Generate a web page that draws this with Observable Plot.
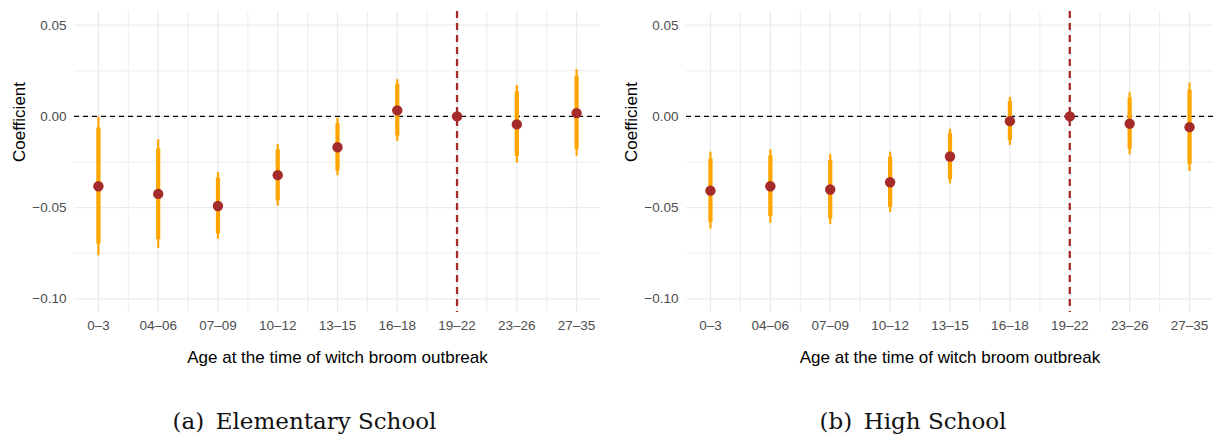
<!DOCTYPE html>
<html>
<head>
<meta charset="utf-8">
<script src="https://cdn.jsdelivr.net/npm/d3@7"></script>
<script src="https://cdn.jsdelivr.net/npm/@observablehq/plot@0.6"></script>
<style>
  html, body { margin: 0; padding: 0; background: #ffffff; }
  #wrap { position: relative; width: 1214px; height: 437px; overflow: hidden; background: #fff; }
  .fig { position: absolute; top: 0; }
  .cap { position: absolute; top: 408px; text-align: center; font-family: "DejaVu Serif", serif; font-size: 23px; color: #111; white-space: pre; line-height: 26px; }
</style>
</head>
<body>
<div id="wrap">
  <div id="left" class="fig" style="left:0px;"></div>
  <div id="right" class="fig" style="left:612px;"></div>
  <div class="cap" style="left:0px; width:609px;">(a)&#8194;Elementary School</div>
  <div class="cap" style="left:612px; width:602px;">(b)&#8194;High School</div>
</div>
<script>
// ---- data ----
const categories = ["0–3", "04–06", "07–09", "10–12", "13–15", "16–18", "19–22", "23–26", "27–35"];
const referenceCategory = "19–22";

// (a) Elementary School
const elemCoef = [-0.0383, -0.0425, -0.0491, -0.0322, -0.0169, 0.0033, 0, -0.0044, 0.0018];
const elemLo95 = [-0.0764, -0.0723, -0.0674, -0.0491, -0.0326, -0.0137, 0, -0.0256, -0.0218];
const elemHi95 = [-0.0004, -0.0128, -0.0308, -0.0154, -0.0009, 0.0201, 0, 0.0169, 0.0256];
const elemLo90 = [-0.0700, -0.0676, -0.0645, -0.0463, -0.0300, -0.0108, 0, -0.0220, -0.0181];
const elemHi90 = [-0.0064, -0.0178, -0.0339, -0.0183, -0.0040, 0.0176, 0, 0.0136, 0.0220];

// (b) High School
const hsCoef = [-0.0407, -0.0383, -0.0401, -0.0361, -0.0220, -0.0026, 0, -0.0040, -0.0059];
const hsLo95 = [-0.0617, -0.0586, -0.0593, -0.0527, -0.0370, -0.0159, 0, -0.0211, -0.0302];
const hsHi95 = [-0.0196, -0.0183, -0.0209, -0.0196, -0.0070, 0.0104, 0, 0.0130, 0.0183];
const hsLo90 = [-0.0581, -0.0549, -0.0562, -0.0498, -0.0346, -0.0132, 0, -0.0181, -0.0264];
const hsHi90 = [-0.0233, -0.0216, -0.0242, -0.0224, -0.0095, 0.0081, 0, 0.0101, 0.0143];

const yTicks = [-0.10, -0.05, 0.00, 0.05];
const yMinorTicks = [-0.075, -0.025, 0.025];
const xTitle = "Age at the time of witch broom outbreak";
const yTitle = "Coefficient";

// ---- chart ----
const xMajor = categories.map((c, i) => i + 1);
const xMinor = categories.slice(1).map((c, i) => i + 1.5);
const refIndex = categories.indexOf(referenceCategory) + 1;

function panel(coef, lo95, hi95, lo90, hi90, width, marginLeft, marginRight) {
  const rows = categories.map((c, i) => ({
    i: i + 1, cat: c, coef: coef[i], lo95: lo95[i], hi95: hi95[i], lo90: lo90[i], hi90: hi90[i]
  }));
  const ciRows = rows.filter(r => r.cat !== referenceCategory);
  const grid = "#EBEBEB";
  return Plot.plot({
    width, height: 380,
    marginTop: 11, marginBottom: 68, marginLeft, marginRight,
    x: { type: "linear", domain: [0.6, 9.4] },
    y: { domain: [-0.1075, 0.0575] },
    style: { fontFamily: "'Liberation Sans', Arial, sans-serif", fontSize: "13.5px", color: "#4D4D4D", background: "white", overflow: "visible" },
    marks: [
      Plot.ruleY(yMinorTicks, { stroke: grid, strokeWidth: 0.9 }),
      Plot.ruleX(xMinor, { stroke: grid, strokeWidth: 0.9 }),
      Plot.ruleY(yTicks, { stroke: grid, strokeWidth: 1.3 }),
      Plot.ruleX(xMajor, { stroke: grid, strokeWidth: 1.3 }),
      Plot.axisY({ ticks: yTicks, tickSize: 0, tickPadding: 8, tickFormat: d3.format(".2f"), label: null, fill: "#4D4D4D" }),
      Plot.axisX({ ticks: xMajor, tickSize: 0, tickPadding: 8, tickFormat: d => categories[d - 1], label: null, fill: "#4D4D4D" }),
      Plot.ruleY([0], { stroke: "black", strokeWidth: 1.1, strokeDasharray: "5,4" }),
      Plot.ruleX([refIndex], { stroke: "#A52A2A", strokeWidth: 2.3, strokeDasharray: "7,5" }),
      Plot.ruleX(ciRows, { x: "i", y1: "lo95", y2: "hi95", stroke: "#FFA500", strokeWidth: 2.2 }),
      Plot.ruleX(ciRows, { x: "i", y1: "lo90", y2: "hi90", stroke: "#FFA500", strokeWidth: 4.2 }),
      Plot.dot(rows, { x: "i", y: "coef", r: 5.2, fill: "#A52A2A", stroke: "none" }),
      Plot.text([xTitle], { text: d => d, frameAnchor: "bottom", dy: 50, fill: "black", fontSize: 17 }),
      Plot.text([yTitle], { text: d => d, frameAnchor: "left", rotate: -90, dx: -55, fill: "black", fontSize: 17 })
    ]
  });
}

document.getElementById("left").append(panel(elemCoef, elemLo95, elemHi95, elemLo90, elemHi90, 607, 74, 7));
document.getElementById("right").append(panel(hsCoef, hsLo95, hsHi95, hsLo90, hsHi90, 602, 74, 1));
</script>
</body>
</html>
